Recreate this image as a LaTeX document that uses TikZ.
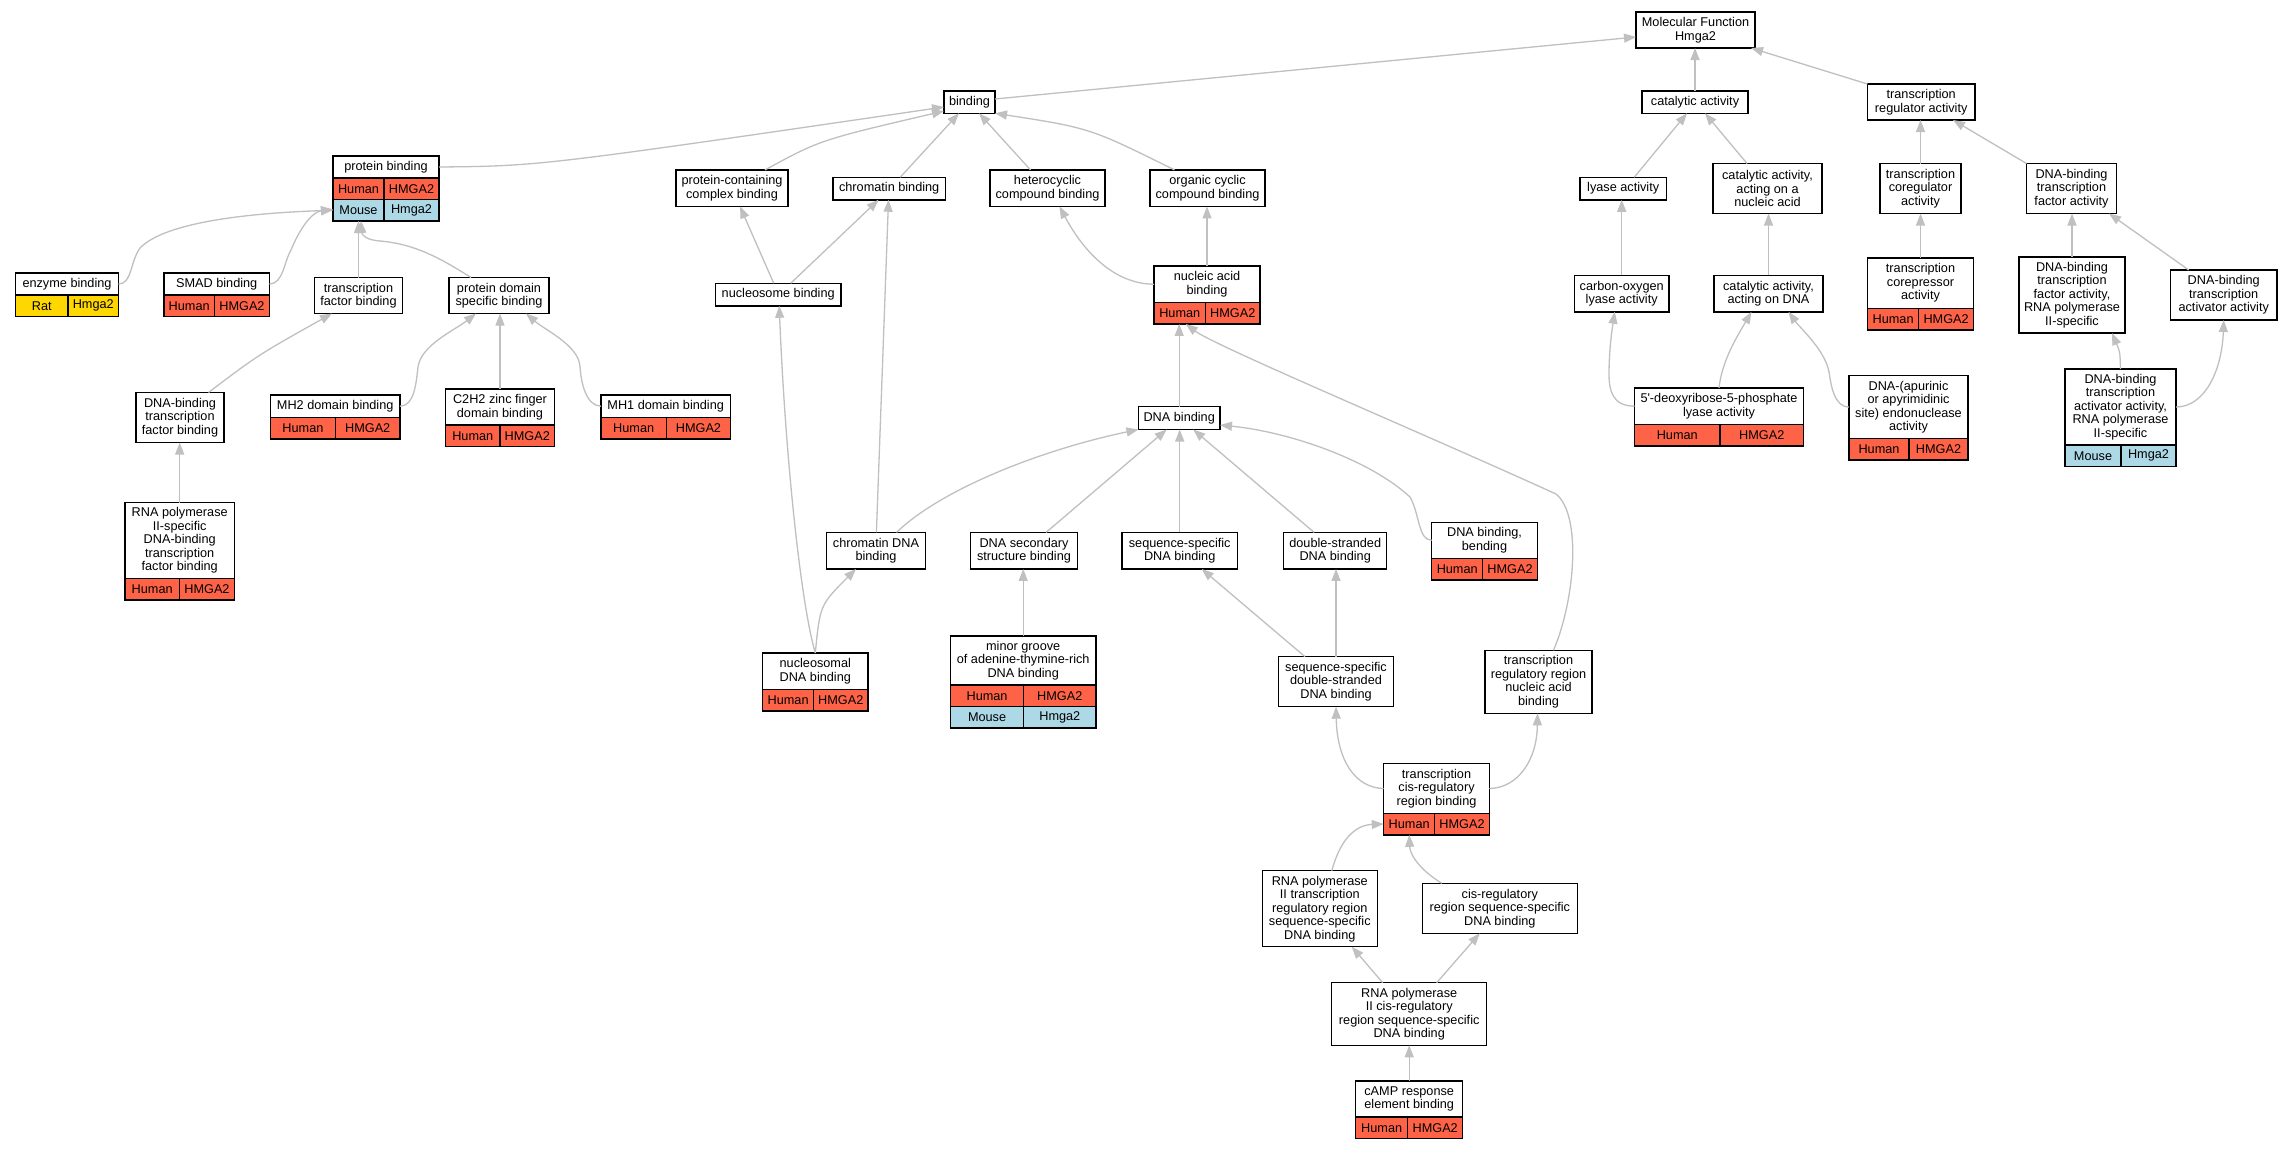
\documentclass[tikz,border=0pt]{standalone}
\usepackage{fontspec}
\setmainfont{Liberation Sans}
\usetikzlibrary{arrows.meta,calc}
\definecolor{humanred}{HTML}{FF6347}
\definecolor{mouseblue}{HTML}{ADD8E6}
\definecolor{ratgold}{HTML}{FFD700}
\definecolor{edgegray}{HTML}{C0C0C0}
\newcommand{\gofont}{\fontsize{12.7}{13.5}\selectfont}

\begin{document}
\begin{tikzpicture}[x=1pt,y=-1pt,
  goterm/.style={draw=black,line width=1.5pt,fill=white,inner sep=1pt,outer sep=0pt,align=center,font=\gofont},
  dims/.style 2 args={minimum width=#1pt,minimum height=#2pt},
  gocell/.style={draw=black,line width=1.5pt,inner sep=0pt,outer sep=0pt,minimum height=21.5pt,anchor=north west,font=\gofont},
  human/.style={gocell,fill=humanred},
  mouse/.style={gocell,fill=mouseblue},
  rat/.style={gocell,fill=ratgold},
  link/.style={draw=edgegray,line width=1.3pt,-{Triangle[length=12pt,width=9pt]}}]

  \useasboundingbox[fill=white] (0,0) rectangle (2293,1149);

  \node[goterm,dims={119}{36}] (mf) at (1695.5,30) {Molecular Function\\Hmga2};
  \node[goterm,dims={51}{22.5}] (bind) at (969.5,102) {binding};
  \node[goterm,dims={106}{22.5}] (cat) at (1695,102) {catalytic activity};
  \node[goterm,dims={107.5}{36}] (tra) at (1921.2,102) {transcription\\regulator activity};

  \node[goterm,dims={106}{22}] (pb) at (386,167) {protein binding};
  \node[goterm,dims={112}{36.5}] (pcc) at (732,188.2) {protein-containing\\complex binding};
  \node[goterm,dims={112.5}{22.5}] (chrom) at (889.2,188.5) {chromatin binding};
  \node[goterm,dims={115}{36.5}] (hetero) at (1047.5,188.2) {heterocyclic\\compound binding};
  \node[goterm,dims={115}{36.5}] (orgcyc) at (1207.5,188.2) {organic cyclic\\compound binding};
  \node[goterm,dims={86.5}{22.5}] (lyase) at (1623.2,188.5) {lyase activity};
  \node[goterm,dims={109}{50}] (catna) at (1767.5,188.5) {catalytic activity,\\acting on a\\nucleic acid};
  \node[goterm,dims={81}{50}] (coreg) at (1920.5,188.5) {transcription\\coregulator\\activity};
  \node[goterm,dims={90}{50}] (dbtfa) at (2071.5,188.5) {DNA-binding\\transcription\\factor activity};

  \node[goterm,dims={103}{22}] (enz) at (67,284) {enzyme binding};
  \node[goterm,dims={105.5}{22}] (smad) at (216.7,284) {SMAD binding};
  \node[goterm,dims={88}{36}] (tfb) at (358.5,295.5) {transcription\\factor binding};
  \node[goterm,dims={100}{36}] (pdsb) at (499,295.5) {protein domain\\specific binding};
  \node[goterm,dims={125.5}{22.5}] (nucl) at (778.2,294.5) {nucleosome binding};
  \node[goterm,dims={106}{36.5}] (nab) at (1207,284.2) {nucleic acid\\binding};
  \node[goterm,dims={94.5}{36.5}] (colyase) at (1621.7,293.5) {carbon-oxygen\\lyase activity};
  \node[goterm,dims={109}{36.5}] (catdna) at (1768.5,293.5) {catalytic activity,\\acting on DNA};
  \node[goterm,dims={106}{50.5}] (corep) at (1920.5,283.2) {transcription\\corepressor\\activity};
  \node[goterm,dims={106}{76}] (dbtfa2) at (2072,295) {DNA-binding\\transcription\\factor activity,\\RNA polymerase\\II-specific};
  \node[goterm,dims={106.5}{50}] (dbtaa) at (2223.7,295) {DNA-binding\\transcription\\activator activity};

  \node[goterm,dims={88}{50}] (dbtfb) at (180,417.5) {DNA-binding\\transcription\\factor binding};
  \node[goterm,dims={129.5}{22.5}] (mh2) at (335.2,406.2) {MH2 domain binding};
  \node[goterm,dims={109}{36}] (c2h2) at (500,407) {C2H2 zinc finger\\domain binding};
  \node[goterm,dims={129.5}{22.5}] (mh1) at (665.7,406.2) {MH1 domain binding};
  \node[goterm,dims={81.5}{23}] (dnab) at (1179.2,418) {DNA binding};
  \node[goterm,dims={169}{36.5}] (deox) at (1719,406.2) {5\textquotesingle-deoxyribose-5-phosphate\\lyase activity};
  \node[goterm,dims={119}{63}] (apur) at (1908.5,407) {DNA-(apurinic\\or apyrimidinic\\site) endonuclease\\activity};
  \node[goterm,dims={111}{76}] (dbtaa2) at (2120.5,407) {DNA-binding\\transcription\\activator activity,\\RNA polymerase\\II-specific};

  \node[goterm,dims={109.5}{76}] (rnapdb) at (179.7,540.5) {RNA polymerase\\II-specific\\DNA-binding\\transcription\\factor binding};
  \node[goterm,dims={99}{36.5}] (chromdna) at (876,550.7) {chromatin DNA\\binding};
  \node[goterm,dims={107}{36.5}] (dnasec) at (1024,550.7) {DNA secondary\\structure binding};
  \node[goterm,dims={115.5}{36.5}] (seqdna) at (1179.7,550.7) {sequence-specific\\DNA binding};
  \node[goterm,dims={103}{36.5}] (dsdna) at (1335.2,550.7) {double-stranded\\DNA binding};
  \node[goterm,dims={105.6}{36}] (bend) at (1484.5,540.3) {DNA binding,\\bending};

  \node[goterm,dims={105.4}{36.4}] (nucldna) at (815.3,671.2) {nucleosomal\\DNA binding};
  \node[goterm,dims={145.5}{49}] (minor) at (1023.2,660.5) {minor groove\\of adenine-thymine-rich\\DNA binding};
  \node[goterm,dims={114.6}{50}] (seqds) at (1336,681.7) {sequence-specific\\double-stranded\\DNA binding};
  \node[goterm,dims={107}{63}] (trrnab) at (1538.5,681.8) {transcription\\regulatory region\\nucleic acid\\binding};
  \node[goterm,dims={105.6}{49.6}] (cisreg) at (1436.5,788.5) {transcription\\cis-regulatory\\region binding};
  \node[goterm,dims={115}{76}] (rnaptrr) at (1319.8,908.7) {RNA polymerase\\II transcription\\regulatory region\\sequence-specific\\DNA binding};
  \node[goterm,dims={155}{50}] (cisseq) at (1499.8,908.3) {cis-regulatory\\region sequence-specific\\DNA binding};
  \node[goterm,dims={155}{62.6}] (rnapcis) at (1409.2,1014) {RNA polymerase\\II cis-regulatory\\region sequence-specific\\DNA binding};
  \node[goterm,dims={107}{36}] (camp) at (1409.2,1099) {cAMP response\\element binding};

  \foreach \nm/\wa/\wb in {pb/51/55,smad/50.5/55,nab/51.5/54.5,corep/51.2/54.8,mh2/65/64.5,
      c2h2/54.5/54.5,mh1/65.5/64,deox/85.5/83.5,apur/60/59,rnapdb/54.5/55,bend/51/54.6,
      nucldna/51/54.4,minor/73.2/72.3,cisreg/51/54.6,camp/52/55} {
    \node[human,minimum width=\wa pt] (\nm-s) at (\nm.south west) {Human};
    \node[human,minimum width=\wb pt] (\nm-g) at (\nm-s.north east) {HMGA2};
  }
  \foreach \nm/\wa/\wb in {pb/51/55,minor/73.2/72.3} {
    \node[mouse,minimum width=\wa pt] (\nm-m) at (\nm-s.south west) {Mouse};
    \node[mouse,minimum width=\wb pt] (\nm-mg) at (\nm-m.north east) {Hmga2};
  }
  \node[mouse,minimum width=56pt] (dbtaa2-s) at (dbtaa2.south west) {Mouse};
  \node[mouse,minimum width=55pt] (dbtaa2-g) at (dbtaa2-s.north east) {Hmga2};
  \node[rat,minimum width=52.5pt] (enz-s) at (enz.south west) {Rat};
  \node[rat,minimum width=50.5pt] (enz-g) at (enz-s.north east) {Hmga2};

  \foreach \ch/\pa in {cat/mf,tfb/pb-m,c2h2/pdsb,nab/orgcyc,coreg/tra,colyase/lyase,catdna/catna,
      corep/coreg,dbtfa2/dbtfa,rnapdb/dbtfb,dnab/nab-s,seqdna/dnab,minor/dnasec,seqds/dsdna,camp/rnapcis}
    \draw[link] (\ch.north) -- (\ch.north |- \pa.south);

  \foreach \ch/\shc/\pa/\shp in {lyase/11/cat/-8,catna/-20.5/cat/10,dbtaa/-35/dbtfa/37.5,
      chrom/11/bind/-10.5,hetero/-17/bind/9.5,nucl/-4.5/pcc/8,nucl/12.5/chrom/-10.6,
      chromdna/0.4/chrom/-0.7,dsdna/-21/dnab/14,dnasec/22/dnab/-12.5,seqds/-31/seqdna/22,
      rnapcis/-26.5/rnaptrr/32,rnapcis/27.5/cisseq/-20}
    \draw[link] ($(\ch.north)+(\shc,0)$) -- ($(\pa.south)+(\shp,0)$);

  \draw[link] ($(bind.east)+(0,-3)$) -- ($(mf.west)+(0,7)$);
  \draw[link] (tra.north west) -- ($(mf.south east)+(-4,0)$);
  \draw[link] (dbtfa.north west) -- ($(tra.south east)+(-22,0)$);
  \draw[link] (pb.east) .. controls (540,166) .. ($(bind.west)+(0,5)$);
  \draw[link] ($(pcc.north)+(33,0)$) .. controls (820,140) .. ($(bind.west)+(0,9)$);
  \draw[link] ($(orgcyc.north)+(-33,0)$) .. controls (1090,128) .. (bind.south east);
  \draw[link] ($(dbtfb.north)+(28.5,0)$) .. controls (258,355) .. ($(tfb.south)+(-26.5,0)$);
  \draw[link] (enz.east) .. controls (132,284) and (130,262) .. (140,248)
    .. controls (165,222) and (250,213) .. (pb-m.west);
  \draw[link] (smad.east) .. controls (283,284) and (284,262) .. (291,250)
    .. controls (300,228) and (312,212) .. ($(pb-m.west)+(0,-1)$);
  \draw[link] ($(pdsb.north)+(-28,0)$) .. controls (440,258) and (415,244) .. (380,241)
    .. controls (366,240) and (362,235) .. ($(pb-m.south west)+(28,0)$);
  \draw[link] (mh2.east) .. controls (414,406) and (416,385) .. (418,367)
    .. controls (421,345) and (455,330) .. ($(pdsb.south)+(-23,0)$);
  \draw[link] (mh1.west) .. controls (587,406) and (581,385) .. (580,366)
    .. controls (578,345) and (545,330) .. ($(pdsb.south)+(27,0)$);
  \draw[link] (nab.west) .. controls (1110,284) and (1080,245) .. ($(hetero.south)+(12,0)$);
  \draw[link] (nucldna.north) .. controls (820,605) .. ($(chromdna.south)+(-20,0)$);
  \draw[link] (nucldna.north) .. controls (800,600) and (785,450) .. ($(nucl.south)+(1,0)$);
  \draw[link] ($(chromdna.north)+(20.5,0)$) .. controls (940,490) and (1040,450) .. (dnab.south west);
  \draw[link] (bend.west) .. controls (1418,540) and (1420,515) .. (1410,497)
    .. controls (1370,460) and (1290,432) .. ($(dnab.east)+(0,7)$);
  \draw[link] ($(trrnab.north)+(15,0)$) .. controls (1575,600) and (1582,515) .. (1556,494)
    .. controls (1420,432) and (1215,346) .. ($(nab-s.south)+(6,0)$);
  \draw[link] (cisreg.west) .. controls (1355,788) and (1337,760) .. (seqds.south);
  \draw[link] (cisreg.east) .. controls (1518,788) and (1537,760) .. ($(trrnab.south)+(-1,0)$);
  \draw[link] ($(rnaptrr.north)+(12,0)$) .. controls (1340,840) and (1355,825) .. (cisreg-s.west);
  \draw[link] ($(cisseq.north)+(-58,0)$) .. controls (1420,870) and (1410,855) .. (cisreg-s.south);
  \draw[link] (deox.west) .. controls (1612,406) and (1609,390) .. (1609,374)
    .. controls (1609,350) and (1612,330) .. ($(colyase.south)+(-7,0)$);
  \draw[link] (deox.north) .. controls (1722,360) and (1738,335) .. ($(catdna.south)+(-17,0)$);
  \draw[link] (apur.west) .. controls (1834,407) and (1831,385) .. (1829,372)
    .. controls (1825,350) and (1800,328) .. ($(catdna.south)+(20,0)$);
  \draw[link] (dbtaa2.north) .. controls (2120,352) .. ($(dbtfa2.south)+(40,0)$);
  \draw[link] (dbtaa2.east) .. controls (2205,407) and (2222,370) .. (dbtaa.south);
\end{tikzpicture}
\end{document}
